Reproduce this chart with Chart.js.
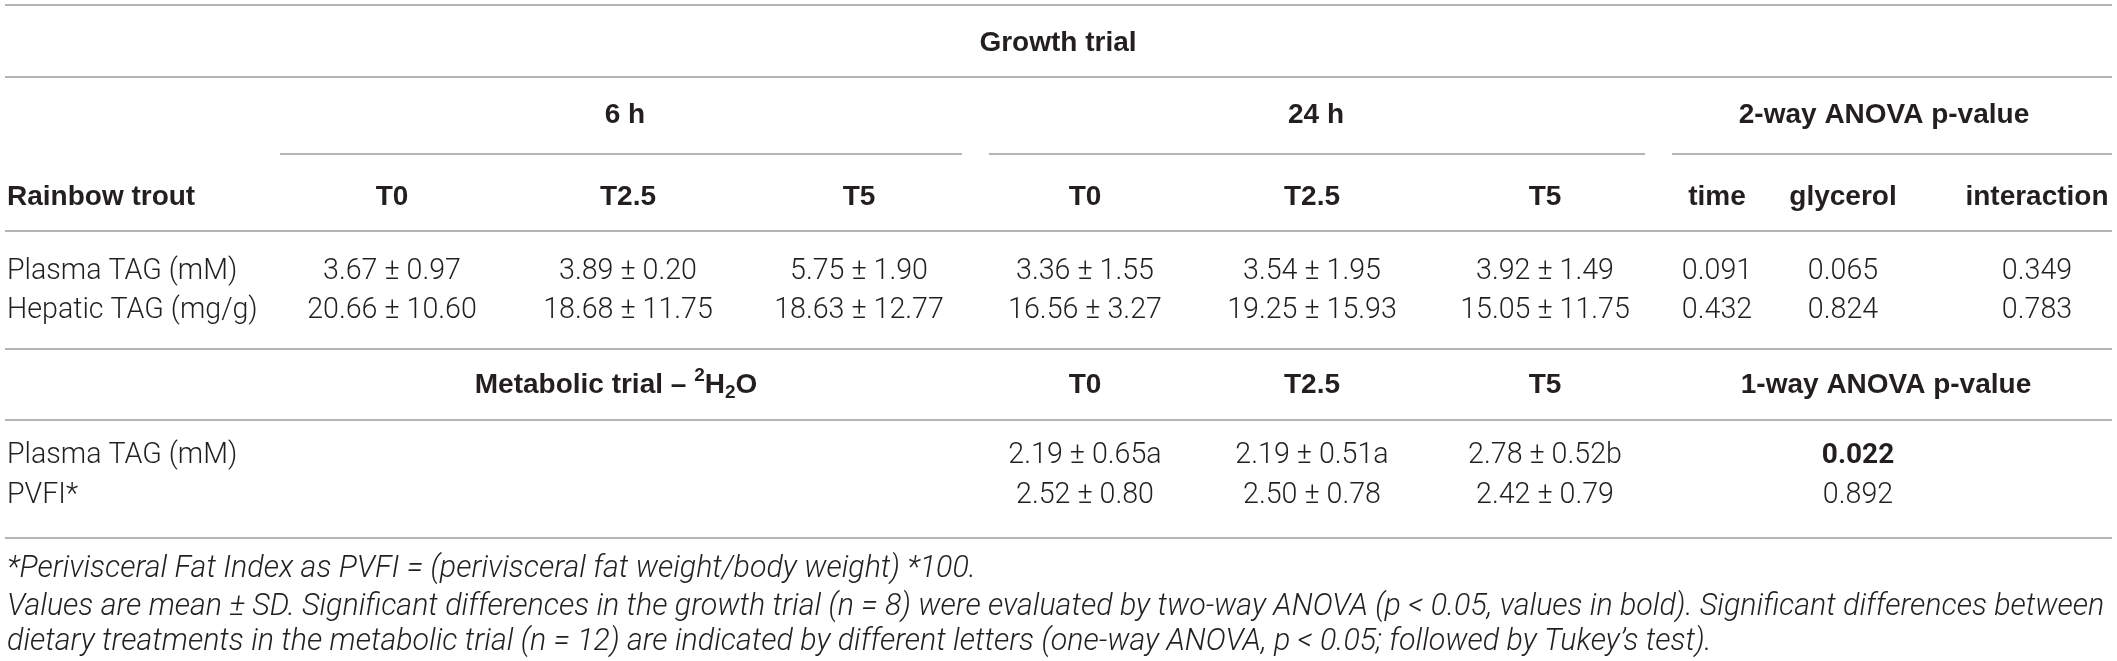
<!DOCTYPE html>
<html>
<head>
<meta charset="utf-8">
<script src="https://cdn.jsdelivr.net/npm/chart.js@4.4.1/dist/chart.umd.min.js"></script>
<style>
  html, body { margin: 0; padding: 0; background: #ffffff; }
  #wrap { width: 2117px; height: 661px; position: relative; }
</style>
</head>
<body>
<div id="wrap"><canvas id="c" width="2117" height="661"></canvas></div>
<script>
// ---------------- DATA ----------------
const tableTitle = 'Growth trial';
const timePoints = ['6 h', '24 h'];
const treatments = ['T0', 'T2.5', 'T5'];
const anovaTerms = ['time', 'glycerol', 'interaction'];
const rowHeader = 'Rainbow trout';
const twoWayTitle = '2-way ANOVA p-value';
const oneWayTitle = '1-way ANOVA p-value';

const growthVariables = ['Plasma TAG (mM)', 'Hepatic TAG (mg/g)'];
// means / SD, order: 6h T0, 6h T2.5, 6h T5, 24h T0, 24h T2.5, 24h T5
const plasmaTagGrowthMean = [3.67, 3.89, 5.75, 3.36, 3.54, 3.92];
const plasmaTagGrowthSD   = [0.97, 0.20, 1.90, 1.55, 1.95, 1.49];
const hepaticTagMean      = [20.66, 18.68, 18.63, 16.56, 19.25, 15.05];
const hepaticTagSD        = [10.60, 11.75, 12.77, 3.27, 15.93, 11.75];
const plasmaTagTwoWayP    = [0.091, 0.065, 0.349];
const hepaticTagTwoWayP   = [0.432, 0.824, 0.783];

const metabolicVariables = ['Plasma TAG (mM)', 'PVFI*'];
const plasmaTagMetabMean  = [2.19, 2.19, 2.78];
const plasmaTagMetabSD    = [0.65, 0.51, 0.52];
const plasmaTagMetabLetters = ['a', 'a', 'b'];
const pvfiMean            = [2.52, 2.50, 2.42];
const pvfiSD              = [0.80, 0.78, 0.79];
const pvfiLetters         = ['', '', ''];
const oneWayP             = [0.022, 0.892];
const significance        = 0.05;

const footnotes = [
  '*Perivisceral Fat Index as PVFI = (perivisceral fat weight/body weight) *100.',
  'Values are mean \u00B1 SD. Significant differences in the growth trial (n = 8) were evaluated by two-way ANOVA (p < 0.05, values in bold). Significant differences between',
  'dietary treatments in the metabolic trial (n = 12) are indicated by different letters (one-way ANOVA, p < 0.05; followed by Tukey\u2019s test).'
];

// ---------------- LAYOUT (styles / positions in axis units) ----------------
const layoutOpts = {
  labelX: 7,
  colX: [392, 628, 859, 1085, 1312, 1545, 1717, 1843, 2037],
  spanX: { growth: 1058, t6: 625, t24: 1316, twoWay: 1884, metab: 616, oneWay: 1886, oneWayVal: 1858 },
  segs: [[280, 962], [989, 1645], [1672, 2112]],
  fullLine: [5, 2112],
  rowY: { title: 43, time: 115, header: 197, g1: 272, g2: 311, metab: 385, m1: 456, m2: 496, f1: 569, f2: 607, f3: 642 },
  linesY: [5, 77, 231, 349, 420, 538],
  segY: 154,
  color: '#231f20',
  lineColor: '#9b9b9b',
  boldFont: '700 28px "Liberation Sans", Arial, sans-serif',
  smallBold: '700 19px "Liberation Sans", Arial, sans-serif',
  bodyFont: '300 28.6px Roboto, "Liberation Sans", sans-serif',
  bodyBold: '700 28px Roboto, "Liberation Sans", sans-serif',
  noteFont: 'italic 300 30.4px Roboto, "Liberation Sans", sans-serif'
};

function fmt(m, sd, letter) { return m.toFixed(2) + ' \u00B1 ' + sd.toFixed(2) + (letter || ''); }

const tablePlugin = {
  id: 'tablePlugin',
  afterDraw(chart, args, o) {
    const ctx = chart.ctx;
    const xs = chart.scales.x, ys = chart.scales.y;
    const X = v => xs.getPixelForValue(v);
    const Y = v => ys.getPixelForValue(v);
    ctx.save();
    ctx.textBaseline = 'middle';
    ctx.fillStyle = o.color;
    const txt = (s, x, y, font, align) => {
      ctx.font = font; ctx.textAlign = align || 'center'; ctx.fillText(s, X(x), Y(y));
    };
    // rules
    ctx.strokeStyle = o.lineColor;
    ctx.lineWidth = 1.6;
    o.linesY.forEach(y => {
      ctx.beginPath(); ctx.moveTo(X(o.fullLine[0]), Y(y)); ctx.lineTo(X(o.fullLine[1]), Y(y)); ctx.stroke();
    });
    o.segs.forEach(s => {
      ctx.beginPath(); ctx.moveTo(X(s[0]), Y(o.segY)); ctx.lineTo(X(s[1]), Y(o.segY)); ctx.stroke();
    });
    const R = o.rowY, C = o.colX, S = o.spanX;
    // headers
    txt(tableTitle, S.growth, R.title, o.boldFont);
    txt(timePoints[0], S.t6, R.time, o.boldFont);
    txt(timePoints[1], S.t24, R.time, o.boldFont);
    txt(twoWayTitle, S.twoWay, R.time, o.boldFont);
    txt(rowHeader, o.labelX, R.header, o.boldFont, 'left');
    const hdr = treatments.concat(treatments).concat(anovaTerms);
    hdr.forEach((h, i) => txt(h, C[i], R.header, o.boldFont));
    // growth rows
    const gRows = [
      [plasmaTagGrowthMean, plasmaTagGrowthSD, plasmaTagTwoWayP, R.g1],
      [hepaticTagMean, hepaticTagSD, hepaticTagTwoWayP, R.g2]
    ];
    gRows.forEach((r, ri) => {
      txt(growthVariables[ri], o.labelX, r[3], o.bodyFont, 'left');
      r[0].forEach((m, i) => txt(fmt(m, r[1][i]), C[i], r[3], o.bodyFont));
      r[2].forEach((p, i) => txt(p.toFixed(3), C[6 + i], r[3], p < significance ? o.bodyBold : o.bodyFont));
    });
    // metabolic header with super/subscripts
    const parts = [
      { t: 'Metabolic trial \u2013 ', f: o.boldFont, dy: 0 },
      { t: '2', f: o.smallBold, dy: -9 },
      { t: 'H', f: o.boldFont, dy: 0 },
      { t: '2', f: o.smallBold, dy: 8 },
      { t: 'O', f: o.boldFont, dy: 0 }
    ];
    let total = 0;
    parts.forEach(p => { ctx.font = p.f; p.w = ctx.measureText(p.t).width; total += p.w; });
    let px = X(S.metab) - total / 2;
    ctx.textAlign = 'left';
    parts.forEach(p => { ctx.font = p.f; ctx.fillText(p.t, px, Y(R.metab) + p.dy); px += p.w; });
    treatments.forEach((h, i) => txt(h, C[3 + i], R.metab, o.boldFont));
    txt(oneWayTitle, S.oneWay, R.metab, o.boldFont);
    // metabolic rows
    const mRows = [
      [plasmaTagMetabMean, plasmaTagMetabSD, plasmaTagMetabLetters, R.m1],
      [pvfiMean, pvfiSD, pvfiLetters, R.m2]
    ];
    mRows.forEach((r, ri) => {
      txt(metabolicVariables[ri], o.labelX, r[3], o.bodyFont, 'left');
      r[0].forEach((m, i) => txt(fmt(m, r[1][i], r[2][i]), C[3 + i], r[3], o.bodyFont));
      const p = oneWayP[ri];
      txt(p.toFixed(3), S.oneWayVal, r[3], p < significance ? o.bodyBold : o.bodyFont);
    });
    // footnotes
    [R.f1, R.f2, R.f3].forEach((y, i) => txt(footnotes[i], o.labelX, y, o.noteFont, 'left'));
    ctx.restore();
  }
};

new Chart(document.getElementById('c'), {
  type: 'scatter',
  data: { datasets: [{ data: [], pointRadius: 0 }] },
  options: {
    responsive: false,
    animation: false,
    layout: { padding: 0 },
    scales: {
      x: { type: 'linear', min: 0, max: 2117, display: false },
      y: { type: 'linear', min: 0, max: 661, reverse: true, display: false }
    },
    plugins: { legend: { display: false }, tooltip: { enabled: false }, tablePlugin: layoutOpts }
  },
  plugins: [tablePlugin]
});
</script>
</body>
</html>
